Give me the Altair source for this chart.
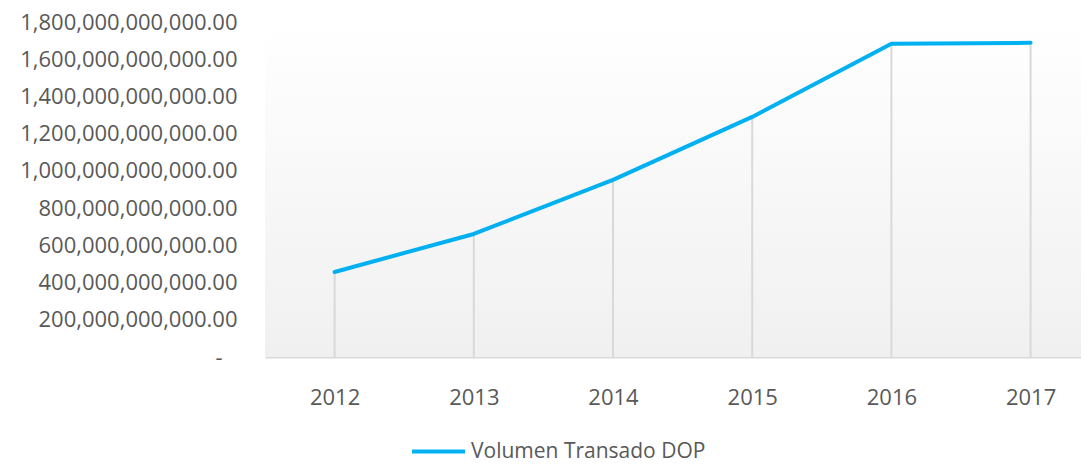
import altair as alt
import pandas as pd

years = [2012, 2013, 2014, 2015, 2016, 2017]
volumes = [457e9, 661e9, 952e9, 1290e9, 1683e9, 1688e9]
series_name = "Volumen Transado DOP"
y_ticks = [0, 2e11, 4e11, 6e11, 8e11, 1e12, 1.2e12, 1.4e12, 1.6e12, 1.8e12]

df = pd.DataFrame({"year": years, "value": volumes, "series": [series_name] * len(years)})

W = 816
H = 335
FONT = "Open Sans"
GRAY = "#595959"

x_scale = alt.Scale(domain=[2011.5, 2017.362], nice=False, zero=False)
y_scale = alt.Scale(domain=[0, 1.8e12], nice=False)

x_axis = alt.Axis(values=years, format="d", title=None, grid=False, ticks=False,
                  domainColor="#D9D9D9", domainWidth=2, labelPadding=40,
                  labelBaseline="middle", labelFontSize=22, labelColor=GRAY,
                  labelFont=FONT, labelOverlap=False)
y_axis = alt.Axis(values=y_ticks, title=None, grid=False, ticks=False, domain=False,
                  labelExpr="datum.value == 0 ? '-' : format(datum.value, ',.2f')",
                  labelPadding={"condition": {"test": "datum.value == 0", "value": 43},
                                "value": 28},
                  labelFontSize=22, labelColor=GRAY, labelFont=FONT,
                  labelLimit=400, labelOverlap=False)

bg = alt.Chart(alt.Data(values=[{}])).mark_rect(
    color=alt.Gradient(
        gradient="linear",
        stops=[alt.GradientStop(color="#FFFFFF", offset=0),
               alt.GradientStop(color="#F0F0F0", offset=1)],
        x1=0, x2=0, y1=0, y2=1,
    )
).encode(x=alt.value(0), x2=alt.value(W), y=alt.value(0), y2=alt.value(H))

drops = alt.Chart(df).mark_rule(color="#D9D9D9", strokeWidth=2).encode(
    x=alt.X("year:Q", scale=x_scale, axis=x_axis),
    y=alt.Y("value:Q", scale=y_scale, axis=y_axis),
    y2=alt.datum(0),
)

line = alt.Chart(df).mark_line(strokeWidth=4, strokeCap="round", strokeJoin="round").encode(
    x=alt.X("year:Q", scale=x_scale, axis=x_axis),
    y=alt.Y("value:Q", scale=y_scale, axis=y_axis),
    color=alt.Color("series:N", scale=alt.Scale(range=["#00B0F0"]),
                    legend=alt.Legend(title=None, orient="none", legendX=145, legendY=401,
                                      symbolType="stroke", symbolSize=2809,
                                      symbolStrokeWidth=4, labelFontSize=21,
                                      labelColor=GRAY, labelFont=FONT, labelOffset=4,
                                      labelLimit=400)),
)

chart = alt.layer(bg, drops, line).properties(
    width=W, height=H,
    padding={"left": 257, "top": 14, "right": 0, "bottom": 106},
    autosize=alt.AutoSizeParams(type="none"),
).configure_view(stroke=None).configure_axisY(labelOverlap=False)

chart.save("out.html", embed_options={"renderer": "svg", "actions": False})
